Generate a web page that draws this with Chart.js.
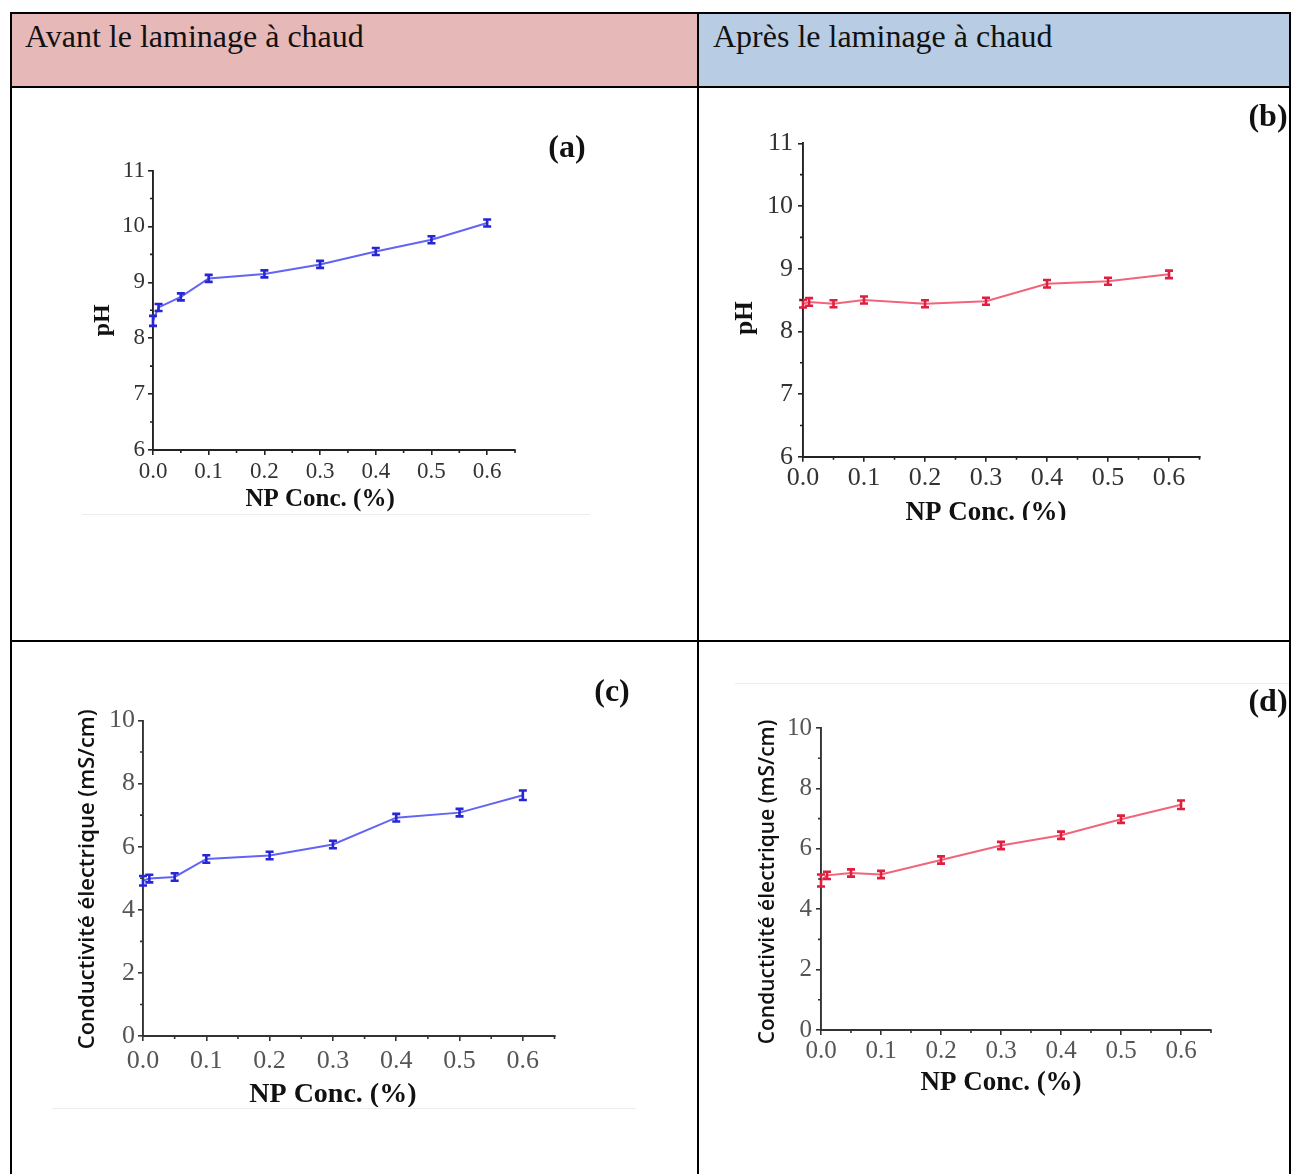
<!DOCTYPE html>
<html lang="fr">
<head>
<meta charset="utf-8">
<title>pH et conductivité – laminage à chaud</title>
<script src="https://cdn.jsdelivr.net/npm/chart.js@4.4.0/dist/chart.umd.min.js"></script>
<style>
    html, body { margin: 0; padding: 0; background: #fff; }
    body { width: 1293px; height: 1174px; position: relative; overflow: hidden; font-family: "Liberation Serif", "Times New Roman", serif; }
    .line { position: absolute; background: #000; }
    .faint { position: absolute; background: #ececec; }
    .head { position: absolute; top: 13px; height: 73px; }
    .head span { position: absolute; left: 14px; top: 7px; font-size: 32px; line-height: 32px; color: #111; white-space: nowrap; }
    .panel { position: absolute; overflow: hidden; }
    .panel canvas { position: absolute; left: 0; top: 0; }
    .letter { position: absolute; font-weight: bold; font-size: 32px; line-height: 34px; color: #111; transform: translate(-50%, -50%); white-space: nowrap; }
</style>
</head>
<body>

<div class="head" style="left:11px; width:687px; background:#e6b8b7;"><span>Avant le laminage à chaud</span></div>
<div class="head" style="left:699px; width:590px; background:#b8cce4;"><span>Après le laminage à chaud</span></div>

<!-- faint edges of the pasted figures -->
<div class="faint" style="left:82px; top:514px; width:508px; height:1px;"></div>
<div class="faint" style="left:52px; top:1108px; width:584px; height:1px;"></div>
<div class="faint" style="left:735px; top:683px; width:554px; height:1px;"></div>

<div class="panel" style="left:80px; top:125px; width:520px; height:388px;"><canvas id="chartA" width="520" height="395"></canvas></div>
<div class="panel" style="left:730px; top:95px; width:559px; height:425px;"><canvas id="chartB" width="560" height="450"></canvas></div>
<div class="panel" style="left:50px; top:675px; width:590px; height:432px;"><canvas id="chartC" width="590" height="440"></canvas></div>
<div class="panel" style="left:735px; top:690px; width:554px; height:420px;"><canvas id="chartD" width="555" height="420"></canvas></div>

<div class="letter" style="left:567px; top:146px;">(a)</div>
<div class="panel" style="left:1220px; top:92px; width:69px; height:48px;"><div class="letter" style="left:48px; top:23px;">(b)</div></div>
<div class="letter" style="left:612px; top:690px;">(c)</div>
<div class="panel" style="left:1220px; top:685px; width:69px; height:40px;"><div class="letter" style="left:48px; top:15px;">(d)</div></div>

<!-- table rules -->
<div class="line" style="left:10px; top:12px; width:1281px; height:2px;"></div>
<div class="line" style="left:10px; top:86px; width:1281px; height:2px;"></div>
<div class="line" style="left:10px; top:640px; width:1281px; height:2px;"></div>
<div class="line" style="left:10px; top:12px; width:2px; height:1162px;"></div>
<div class="line" style="left:697px; top:12px; width:2px; height:1162px;"></div>
<div class="line" style="left:1289px; top:12px; width:2px; height:1162px;"></div>

<script>
// NP concentration (%) — same x values in all four panels
const concentrations = [0, 0.01, 0.05, 0.1, 0.2, 0.3, 0.4, 0.5, 0.6];
const xTickValues = [0, 0.1, 0.2, 0.3, 0.4, 0.5, 0.6];
const phTickValues = [6, 7, 8, 9, 10, 11];
const condTickValues = [0, 2, 4, 6, 8, 10];

// (a) pH avant laminage
const phAvant = [8.31, 8.55, 8.74, 9.07, 9.15, 9.32, 9.55, 9.76, 10.06];
const phAvantErr = [0.09, 0.06, 0.05, 0.05, 0.05, 0.05, 0.05, 0.05, 0.05];
// (b) pH après laminage
const phApres = [8.44, 8.47, 8.44, 8.50, 8.44, 8.48, 8.76, 8.80, 8.91];
const phApresErr = [0.06, 0.06, 0.05, 0.05, 0.05, 0.05, 0.06, 0.05, 0.06];
// (c) conductivité avant laminage (mS/cm)
const condAvant = [4.92, 4.99, 5.04, 5.61, 5.72, 6.07, 6.92, 7.08, 7.63];
const condAvantErr = [0.15, 0.12, 0.12, 0.12, 0.12, 0.12, 0.12, 0.12, 0.15];
// (d) conductivité après laminage (mS/cm)
const condApres = [4.95, 5.12, 5.20, 5.15, 5.63, 6.11, 6.45, 6.98, 7.46];
const condApresErr = [0.2, 0.12, 0.12, 0.12, 0.12, 0.12, 0.12, 0.12, 0.14];

const serif = '"Liberation Serif", "Times New Roman", serif';
const sans = '"Open Sans", "Noto Sans", sans-serif';

// Error bars (I-shaped markers), drawn through the y scale
const errorBarPlugin = {
    id: 'errorBars',
    afterDatasetsDraw(chart) {
        const ctx = chart.ctx;
        const yScale = chart.scales.y;
        chart.data.datasets.forEach((ds, i) => {
            const meta = chart.getDatasetMeta(i);
            ctx.save();
            ctx.strokeStyle = ds.errColor;
            ctx.lineWidth = 2.6;
            meta.data.forEach((pt, j) => {
                const v = ds.data[j].y;
                const e = ds.errors[j];
                const top = Math.min(yScale.getPixelForValue(v + e), pt.y - 3.5);
                const bot = Math.max(yScale.getPixelForValue(v - e), pt.y + 3.5);
                ctx.beginPath();
                ctx.moveTo(pt.x, top); ctx.lineTo(pt.x, bot);
                ctx.moveTo(pt.x - 4, top); ctx.lineTo(pt.x + 4, top);
                ctx.moveTo(pt.x - 4, bot); ctx.lineTo(pt.x + 4, bot);
                ctx.stroke();
            });
            ctx.restore();
        });
    }
};

// Small minor ticks halfway between the major ones
const minorTickPlugin = {
    id: 'minorTicks',
    afterDraw(chart, args, opts) {
        const ctx = chart.ctx;
        const xs = chart.scales.x, ys = chart.scales.y;
        const mids = (scale) => {
            const t = scale.ticks.map(k => k.value);
            const out = [];
            for (let k = 1; k < t.length; k++) out.push((t[k - 1] + t[k]) / 2);
            const last = t[t.length - 1] + (t[1] - t[0]) / 2;
            if (last <= scale.max + 1e-9) out.push(last);
            return out;
        };
        ctx.save();
        ctx.strokeStyle = opts.color;
        ctx.lineWidth = 1.6;
        ctx.beginPath();
        mids(xs).forEach(v => {
            const px = xs.getPixelForValue(v);
            ctx.moveTo(px, chart.chartArea.bottom);
            ctx.lineTo(px, chart.chartArea.bottom + 3);
        });
        mids(ys).forEach(v => {
            const py = ys.getPixelForValue(v);
            ctx.moveTo(chart.chartArea.left, py);
            ctx.lineTo(chart.chartArea.left - 3, py);
        });
        ctx.stroke();
        ctx.restore();
    }
};

// Axis titles: the x title sits under the middle of the tick range (as in the original figure)
const axisTitlePlugin = {
    id: 'axisTitles',
    afterDraw(chart, args, o) {
        const ctx = chart.ctx;
        const xs = chart.scales.x;
        const xMid = (xTickValues[0] + xTickValues[xTickValues.length - 1]) / 2;
        ctx.save();
        ctx.fillStyle = '#111';
        ctx.textAlign = 'center';
        ctx.textBaseline = 'middle';
        ctx.font = 'bold ' + o.xSize + 'px ' + serif;
        ctx.fillText('NP Conc. (%)', xs.getPixelForValue(xMid), o.xTitleY);
        ctx.translate(o.yTitleX, (chart.chartArea.top + chart.chartArea.bottom) / 2 + o.yShift);
        ctx.rotate(-Math.PI / 2);
        ctx.font = o.yFont;
        ctx.fillText(o.yText, 0, 0);
        ctx.restore();
    }
};

function makeChart(id, p) {
    const points = concentrations.map((x, i) => ({ x: x, y: p.values[i] }));
    const axisGrid = { drawOnChartArea: false, drawTicks: true, tickLength: 5, color: p.axisColor, lineWidth: 1.6 };
    const axisBorder = { display: true, color: p.axisColor, width: 1.9 };
    const tickFont = { family: serif, size: p.tickSize, lineHeight: 1.0 };
    return new Chart(document.getElementById(id), {
        type: 'line',
        data: {
            datasets: [{
                data: points,
                errors: p.errors,
                errColor: p.markerColor,
                borderColor: p.lineColor,
                borderWidth: 2,
                pointRadius: 0,
                tension: 0,
                fill: false
            }]
        },
        options: {
            responsive: false,
            animation: false,
            layout: { padding: { left: 0, top: p.padTop, right: p.padRight, bottom: 0 } },
            plugins: {
                legend: { display: false },
                tooltip: { enabled: false },
                minorTicks: { color: p.axisColor },
                axisTitles: p.titles
            },
            scales: {
                x: {
                    type: 'linear',
                    min: 0,
                    max: 0.65,
                    afterBuildTicks: (scale) => { scale.ticks = xTickValues.map(v => ({ value: v })); },
                    afterFit: (scale) => { scale.height = p.xHeight; },
                    grid: axisGrid,
                    border: axisBorder,
                    ticks: {
                        color: p.tickColor,
                        padding: p.xTickPad,
                        maxRotation: 0,
                        font: tickFont,
                        callback: (v) => Number(v).toFixed(1)
                    },
                    title: { display: false }
                },
                y: {
                    type: 'linear',
                    min: p.yTicks[0],
                    max: p.yTicks[p.yTicks.length - 1],
                    afterBuildTicks: (scale) => { scale.ticks = p.yTicks.map(v => ({ value: v })); },
                    afterFit: (scale) => { scale.width = p.yWidth; },
                    grid: axisGrid,
                    border: axisBorder,
                    ticks: {
                        color: p.tickColor,
                        padding: p.yTickPad,
                        font: tickFont,
                        callback: (v) => String(v)
                    },
                    title: { display: false }
                }
            }
        },
        plugins: [errorBarPlugin, minorTickPlugin, axisTitlePlugin]
    });
}

const blueLine = '#6464f4', blueMark = '#2626d4';
const redLine = '#f2647c', redMark = '#e01e3e';

makeChart('chartA', {
    values: phAvant, errors: phAvantErr, yTicks: phTickValues,
    lineColor: blueLine, markerColor: blueMark, axisColor: '#222', tickColor: '#333',
    padTop: 45.5, padRight: 85, yWidth: 73, xHeight: 70,
    tickSize: 23, xTickPad: 5, yTickPad: 3,
    titles: { xSize: 25, xTitleY: 375, yTitleX: 23, yShift: 10, yText: 'pH', yFont: 'bold 24px ' + serif }
});

makeChart('chartB', {
    values: phApres, errors: phApresErr, yTicks: phTickValues,
    lineColor: redLine, markerColor: redMark, axisColor: '#222', tickColor: '#333',
    padTop: 48.3, padRight: 90.5, yWidth: 73, xHeight: 88.2,
    tickSize: 26, xTickPad: 3, yTickPad: 5,
    titles: { xSize: 27, xTitleY: 418, yTitleX: 16, yShift: 18, yText: 'pH', yFont: 'bold 25px ' + serif }
});

makeChart('chartC', {
    values: condAvant, errors: condAvantErr, yTicks: condTickValues,
    lineColor: blueLine, markerColor: blueMark, axisColor: '#333', tickColor: '#555',
    padTop: 45.5, padRight: 85.5, yWidth: 93, xHeight: 79,
    tickSize: 26, xTickPad: 7, yTickPad: 3,
    titles: { xSize: 28, xTitleY: 420, yTitleX: 38, yShift: 1, yText: 'Conductivité électrique (mS/cm)', yFont: '600 22px ' + sans }
});

makeChart('chartD', {
    values: condApres, errors: condApresErr, yTicks: condTickValues,
    lineColor: redLine, markerColor: redMark, axisColor: '#333', tickColor: '#555',
    padTop: 38, padRight: 79, yWidth: 86, xHeight: 80,
    tickSize: 25, xTickPad: 4, yTickPad: 4,
    titles: { xSize: 27, xTitleY: 393, yTitleX: 33, yShift: 3, yText: 'Conductivité électrique (mS/cm)', yFont: '600 21px ' + sans }
});
</script>
</body>
</html>
